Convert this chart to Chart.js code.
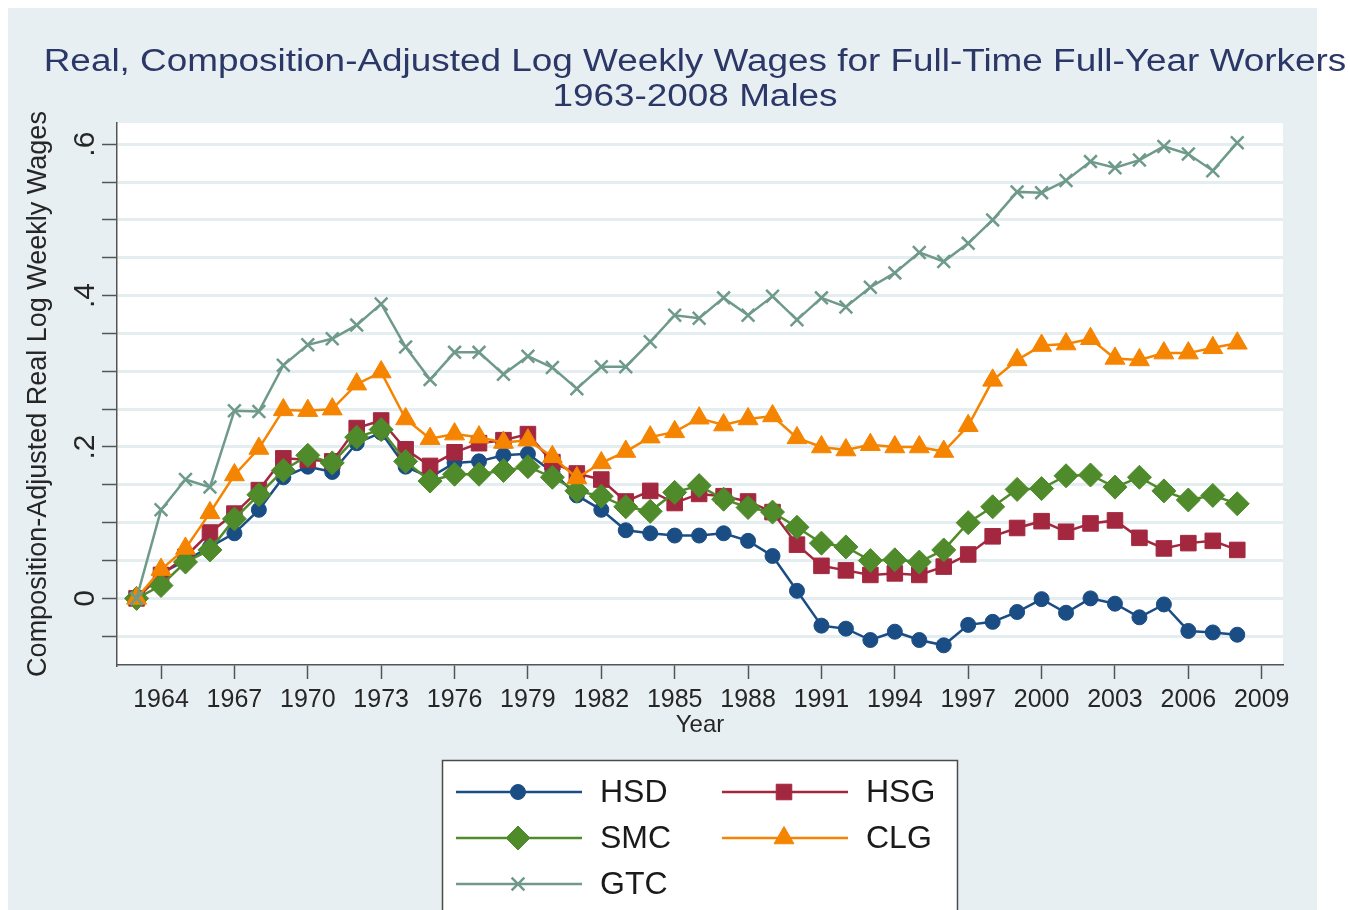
<!DOCTYPE html>
<html>
<head>
<meta charset="utf-8">
<title>Real, Composition-Adjusted Log Weekly Wages</title>
<script src="https://cdn.jsdelivr.net/npm/chart.js@4.4.1/dist/chart.umd.min.js"></script>
<style>
  html, body { margin: 0; padding: 0; background: #fff; }
  #wrap { width: 1350px; height: 910px; }
</style>
</head>
<body>
<div id="wrap"><canvas id="wages" width="1350" height="910"></canvas></div>
<script>
const years = [1963, 1964, 1965, 1966, 1967, 1968, 1969, 1970, 1971, 1972, 1973, 1974, 1975, 1976, 1977, 1978,
  1979, 1980, 1981, 1982, 1983, 1984, 1985, 1986, 1987, 1988, 1989, 1990, 1991, 1992, 1993, 1994,
  1995, 1996, 1997, 1998, 1999, 2000, 2001, 2002, 2003, 2004, 2005, 2006, 2007, 2008];

// high school dropouts
const hsd = [0, 0.033, 0.050, 0.068, 0.086, 0.117, 0.160, 0.174, 0.167, 0.205, 0.219, 0.174, 0.160, 0.179, 0.181, 0.189,
  0.191, 0.167, 0.136, 0.117, 0.090, 0.086, 0.083, 0.083, 0.086, 0.076, 0.056, 0.010, -0.036, -0.040, -0.055, -0.044,
  -0.055, -0.062, -0.035, -0.031, -0.018, -0.001, -0.019, 0.000, -0.007, -0.025, -0.008, -0.043, -0.045, -0.048];
// high school graduates
const hsg = [0, 0.031, 0.055, 0.087, 0.112, 0.143, 0.185, 0.183, 0.181, 0.225, 0.235, 0.197, 0.175, 0.193, 0.205, 0.209,
  0.217, 0.180, 0.165, 0.157, 0.128, 0.142, 0.126, 0.138, 0.135, 0.128, 0.114, 0.071, 0.043, 0.037, 0.031, 0.033,
  0.031, 0.042, 0.058, 0.082, 0.093, 0.102, 0.088, 0.099, 0.103, 0.080, 0.066, 0.073, 0.076, 0.064];
// some college
const smc = [0, 0.017, 0.048, 0.064, 0.105, 0.137, 0.169, 0.189, 0.179, 0.213, 0.223, 0.181, 0.155, 0.164, 0.164, 0.169,
  0.174, 0.160, 0.142, 0.135, 0.121, 0.115, 0.140, 0.149, 0.131, 0.120, 0.114, 0.094, 0.073, 0.068, 0.050, 0.051,
  0.048, 0.064, 0.100, 0.121, 0.144, 0.145, 0.162, 0.163, 0.147, 0.160, 0.142, 0.130, 0.136, 0.125];
// college graduates
const clg = [0, 0.038, 0.066, 0.113, 0.163, 0.198, 0.249, 0.248, 0.250, 0.283, 0.299, 0.237, 0.211, 0.217, 0.213, 0.206,
  0.209, 0.187, 0.159, 0.179, 0.194, 0.213, 0.220, 0.238, 0.229, 0.237, 0.241, 0.212, 0.200, 0.196, 0.203, 0.200,
  0.200, 0.194, 0.228, 0.288, 0.315, 0.334, 0.336, 0.343, 0.317, 0.315, 0.324, 0.324, 0.331, 0.337];
// greater than college
const gtc = [0, 0.117, 0.157, 0.147, 0.248, 0.247, 0.308, 0.335, 0.343, 0.361, 0.389, 0.332, 0.289, 0.325, 0.325, 0.296,
  0.320, 0.305, 0.277, 0.306, 0.306, 0.339, 0.374, 0.370, 0.397, 0.374, 0.399, 0.368, 0.397, 0.385, 0.411, 0.430,
  0.457, 0.445, 0.469, 0.500, 0.537, 0.536, 0.552, 0.577, 0.569, 0.579, 0.597, 0.587, 0.565, 0.602];

const xTickYears = [1964, 1967, 1970, 1973, 1976, 1979, 1982, 1985, 1988, 1991, 1994, 1997, 2000, 2003, 2006, 2009];
const yTickValues = [-0.05, 0, 0.05, 0.1, 0.15, 0.2, 0.25, 0.3, 0.35, 0.4, 0.45, 0.5, 0.55, 0.6];
const yTickText = ['', '0', '', '', '', '.2', '', '', '', '.4', '', '', '', '.6'];

const FONT = '"Liberation Sans", Arial, Helvetica, sans-serif';
Chart.defaults.font.family = FONT;

function points(vals) {
  return years.map((yr, i) => ({ x: yr, y: vals[i] }));
}

function series(label, vals, color, style, radius, order, extra) {
  return Object.assign({
    label: label,
    data: points(vals),
    borderColor: color,
    backgroundColor: color,
    borderWidth: 2.5,
    pointStyle: style,
    pointRadius: radius,
    pointHoverRadius: radius,
    pointBorderWidth: 1,
    pointBorderColor: color,
    pointBackgroundColor: color,
    tension: 0,
    order: order
  }, extra || {});
}

// page background, grey graph region and white plot region
const backdrop = {
  id: 'backdrop',
  beforeDraw(chart) {
    const { ctx, chartArea: a } = chart;
    ctx.save();
    ctx.fillStyle = '#fff';
    ctx.fillRect(0, 0, chart.width, chart.height);
    ctx.fillStyle = '#e8eff2';
    ctx.fillRect(8, 8, 1309, 902);
    ctx.fillStyle = '#fff';
    ctx.fillRect(a.left, a.top, a.right - a.left, a.bottom - a.top);
    ctx.restore();
  }
};

// two-line heading, slightly wide lettering
const heading = {
  id: 'heading',
  afterDraw(chart) {
    const ctx = chart.ctx;
    const lines = ['Real, Composition-Adjusted Log Weekly Wages for Full-Time Full-Year Workers', '1963-2008 Males'];
    ctx.save();
    ctx.font = '31px ' + FONT;
    ctx.fillStyle = '#2b3766';
    ctx.textAlign = 'center';
    ctx.textBaseline = 'middle';
    lines.forEach((txt, i) => {
      ctx.save();
      ctx.translate(695, 62 + i * 35);
      ctx.scale(1.19, 1);
      ctx.fillText(txt, 0, 0);
      ctx.restore();
    });
    ctx.restore();
  }
};

// boxed legend, two columns, line sample with the marker in its middle
const legendBox = {
  id: 'legendBox',
  afterDraw(chart) {
    const ctx = chart.ctx;
    ctx.save();
    ctx.fillStyle = '#fff';
    ctx.fillRect(442, 760, 516, 160);
    ctx.strokeStyle = '#4a4a4a';
    ctx.lineWidth = 1.5;
    ctx.strokeRect(442.5, 760.5, 515, 160);
    ctx.font = '32px ' + FONT;
    ctx.textBaseline = 'middle';
    chart.data.datasets.forEach((ds, i) => {
      const x0 = 456 + (i % 2) * 266;
      const y0 = 792 + Math.floor(i / 2) * 46;
      ctx.strokeStyle = ds.borderColor;
      ctx.lineWidth = ds.borderWidth;
      ctx.beginPath();
      ctx.moveTo(x0, y0);
      ctx.lineTo(x0 + 126, y0);
      ctx.stroke();
      ctx.fillStyle = ds.backgroundColor;
      ctx.lineWidth = ds.pointBorderWidth;
      Chart.helpers.drawPoint(ctx, {
        pointStyle: ds.pointStyle, radius: ds.pointRadius, rotation: 0, borderWidth: ds.pointBorderWidth
      }, x0 + 62, y0);
      ctx.fillStyle = '#1a1a1a';
      ctx.fillText(ds.label, x0 + 144, y0 + 1);
    });
    ctx.restore();
  }
};

new Chart(document.getElementById('wages'), {
  type: 'line',
  data: {
    datasets: [
      series('HSD', hsd, '#1b4d85', 'circle', 7.5, 5),
      series('HSG', hsg, '#a3283f', 'rect', 11, 4),
      series('SMC', smc, '#4f8a2b', 'rectRot', 12, 3),
      series('CLG', clg, '#f58400', 'triangle', 11.5, 2),
      series('GTC', gtc, '#6f9a8a', 'crossRot', 9, 1, { pointBorderWidth: 2.5 })
    ]
  },
  options: {
    responsive: false,
    animation: false,
    events: [],
    devicePixelRatio: 1,
    layout: { padding: { left: 8, top: 123, right: 67, bottom: 170 } },
    plugins: {
      legend: { display: false },
      tooltip: { enabled: false }
    },
    scales: {
      x: {
        type: 'linear',
        min: 1962.2,
        max: 2009.87,
        afterBuildTicks: (scale) => { scale.ticks = xTickYears.map(v => ({ value: v })); },
        afterFit: (scale) => { scale.height = 75; },
        ticks: {
          autoSkip: false,
          maxRotation: 0,
          padding: 6,
          color: '#262626',
          font: { size: 25 },
          callback: (v) => String(v)
        },
        grid: { drawOnChartArea: false, tickLength: 14, tickColor: '#555', tickWidth: 1.5 },
        border: { display: true, color: '#555', width: 1.5 },
        title: { display: true, text: 'Year', color: '#262626', font: { size: 24 }, padding: { top: 0, bottom: 0 } }
      },
      y: {
        min: -0.088,
        max: 0.628,
        afterBuildTicks: (scale) => { scale.ticks = yTickValues.map(v => ({ value: v })); },
        afterFit: (scale) => { scale.width = 109; },
        ticks: {
          autoSkip: false,
          minRotation: 90,
          maxRotation: 90,
          crossAlign: 'center',
          padding: 4,
          color: '#262626',
          font: { size: 30 },
          callback: (v, i) => yTickText[i]
        },
        grid: { color: '#e4edf0', lineWidth: 3, tickLength: 15, tickColor: '#555', tickWidth: 1.5 },
        border: { display: true, color: '#555', width: 1.5 },
        title: {
          display: true,
          text: 'Composition-Adjusted Real Log Weekly Wages',
          color: '#262626',
          font: { size: 27 },
          padding: { top: 14, bottom: 0 }
        }
      }
    }
  },
  plugins: [backdrop, heading, legendBox]
});
</script>
</body>
</html>
